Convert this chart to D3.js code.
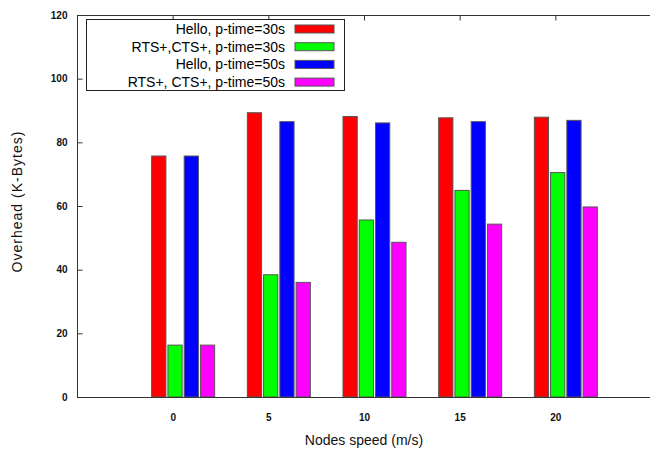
<!DOCTYPE html>
<html>
<head>
<meta charset="utf-8">
<script src="https://cdn.jsdelivr.net/npm/d3@7"></script>
<style>
  body { margin: 0; background: #fff; }
  svg { display: block; font-family: "Liberation Sans", Arial, sans-serif; }
</style>
</head>
<body>
<div id="chart"></div>
<script>
const speeds = [0, 5, 10, 15, 20];
const seriesNames = [
  "Hello, p-time=30s",
  "RTS+,CTS+, p-time=30s",
  "Hello, p-time=50s",
  "RTS+, CTS+, p-time=50s"
];
const seriesColors = ["#ff0000", "#00ff00", "#0000ff", "#ff00ff"];
const helloP30 = [75.7, 89.3, 88.1, 87.7, 87.9];
const rtsP30 = [16.3, 38.4, 55.6, 64.9, 70.5];
const helloP50 = [75.7, 86.5, 86.1, 86.5, 86.9];
const rtsP50 = [16.3, 36.0, 48.6, 54.3, 59.7];
const yTicks = [0, 20, 40, 60, 80, 100, 120];

const width = 650, height = 450;
const margin = { top: 15, right: 0, bottom: 53, left: 77 };

const allSeries = [helloP30, rtsP30, helloP50, rtsP50];

const svg = d3.select("#chart")
  .append("svg")
  .attr("width", width)
  .attr("height", height);

const xScale = d3.scaleLinear()
  .domain([-5, 25])
  .range([margin.left, width + 1]);

const yScale = d3.scaleLinear()
  .domain([0, 120])
  .range([height - margin.bottom, margin.top]);

// series offset inside each group, in px relative to the tick
const x1 = d3.scaleBand()
  .domain(d3.range(seriesNames.length))
  .range([-21, 42])
  .paddingInner(0.125);

// bars
const groups = svg.selectAll("g.series")
  .data(allSeries)
  .join("g")
  .attr("class", "series")
  .attr("fill", (d, i) => seriesColors[i]);

groups.selectAll("rect")
  .data((vals, i) => vals.map((v, j) => ({ v, speed: speeds[j], s: i })))
  .join("rect")
  .attr("x", d => xScale(d.speed) + x1(d.s))
  .attr("width", x1.bandwidth())
  .attr("y", d => yScale(d.v))
  .attr("height", d => yScale(0) - yScale(d.v))
  .attr("stroke", "#555")
  .attr("stroke-width", 1);

// frame
const frame = svg.append("g")
  .attr("stroke", "#333")
  .attr("stroke-width", 1)
  .attr("fill", "none");

frame.append("rect")
  .attr("x", margin.left + 0.5)
  .attr("y", margin.top + 0.5)
  .attr("width", width)
  .attr("height", yScale(0) - margin.top);

// y ticks and labels
const yAxis = d3.axisLeft(yScale)
  .tickValues(yTicks)
  .tickSizeInner(-5)
  .tickSizeOuter(0)
  .tickPadding(10);

const yg = svg.append("g")
  .attr("transform", `translate(${margin.left + 0.5},0)`)
  .call(yAxis);
yg.select(".domain").remove();
yg.selectAll("line").attr("stroke", "#333");
yg.selectAll("text")
  .attr("font-size", 10)
  .attr("font-weight", "bold")
  .attr("font-family", "Liberation Sans, Arial, sans-serif")
  .attr("fill", "#111");

// x ticks (mirrored on top) and labels
const xAxisTop = d3.axisTop(xScale)
  .tickValues(speeds)
  .tickSizeInner(-5)
  .tickSizeOuter(0)
  .tickFormat("");
const xt = svg.append("g")
  .attr("transform", `translate(0,${margin.top + 0.5})`)
  .call(xAxisTop);
xt.select(".domain").remove();
xt.selectAll("line").attr("stroke", "#333");

const xAxis = d3.axisBottom(xScale)
  .tickValues(speeds)
  .tickSize(0)
  .tickPadding(16);
const xg = svg.append("g")
  .attr("transform", `translate(0,${yScale(0) + 0.5})`)
  .call(xAxis);
xg.select(".domain").remove();
xg.selectAll("text")
  .attr("font-size", 10)
  .attr("font-weight", "bold")
  .attr("font-family", "Liberation Sans, Arial, sans-serif")
  .attr("fill", "#111");

// axis titles
svg.append("text")
  .attr("x", 364)
  .attr("y", 445)
  .attr("text-anchor", "middle")
  .attr("font-size", 14)
  .attr("fill", "#111")
  .text("Nodes speed (m/s)");

svg.append("text")
  .attr("transform", "translate(22,202) rotate(-90)")
  .attr("text-anchor", "middle")
  .attr("font-size", 14)
  .attr("fill", "#111")
  .attr("textLength", 141)
  .attr("lengthAdjust", "spacing")
  .text("Overhead (K-Bytes)");

// legend
const legend = svg.append("g");
legend.append("rect")
  .attr("x", 86.5)
  .attr("y", 19.5)
  .attr("width", 258)
  .attr("height", 71)
  .attr("fill", "#fff")
  .attr("stroke", "#222");

const rows = legend.selectAll("g.row")
  .data(seriesNames)
  .join("g")
  .attr("class", "row")
  .attr("transform", (d, i) => `translate(0,${29 + i * 17.7})`);

rows.append("text")
  .attr("x", 285)
  .attr("y", 5)
  .attr("text-anchor", "end")
  .attr("font-size", 14)
  .attr("fill", "#000")
  .text(d => d);

rows.append("rect")
  .attr("x", 295)
  .attr("y", -4)
  .attr("width", 39)
  .attr("height", 8)
  .attr("fill", (d, i) => seriesColors[i])
  .attr("stroke", "#555");
</script>
</body>
</html>
